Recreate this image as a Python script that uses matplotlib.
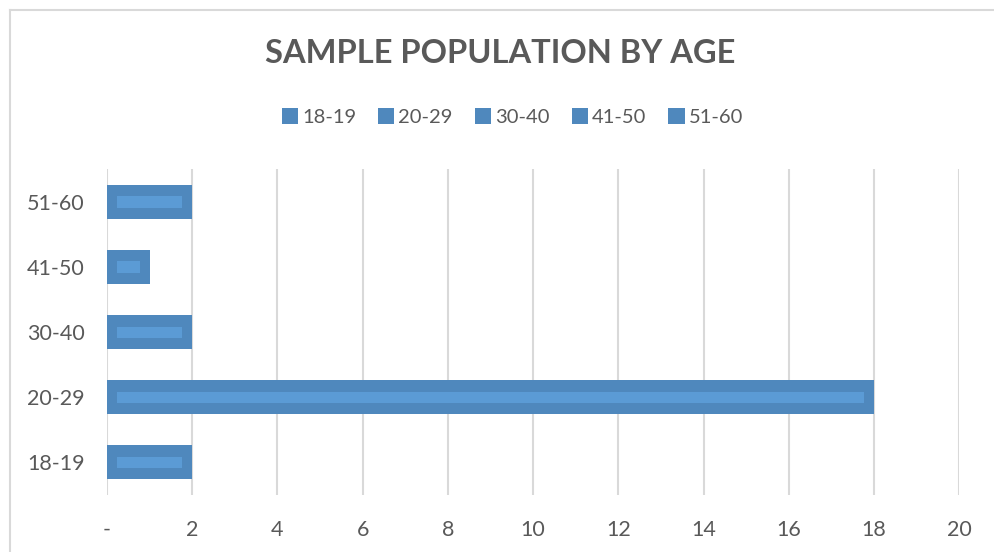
import matplotlib.pyplot as plt
from matplotlib.patches import Patch
from matplotlib.lines import Line2D
from matplotlib.ticker import FuncFormatter

# datos
grupos = ['18-19', '20-29', '30-40', '41-50', '51-60']
personas = [2, 18, 2, 1, 2]

plt.rcParams['font.family'] = ['Lato', 'DejaVu Sans']

fig = plt.figure(figsize=(9.95, 5.52), dpi=100)
ax = fig.add_axes([0.1075, 0.104, 0.8565, 0.589])

borde = '#4F88BD'
relleno = '#5B9BD5'
gris = '#595959'

# barra exterior y franja interior mas clara
ax.barh(grupos, personas, height=0.52, color=borde, zorder=3)
margen = 0.23
ax.barh(grupos, [p - 2 * margen for p in personas], left=margen, height=0.17,
        color=relleno, zorder=4)

ax.set_xlim(0, 20)
ax.set_ylim(-0.5, 4.5)
ax.set_xticks(range(0, 21, 2))
ax.xaxis.set_major_formatter(FuncFormatter(lambda v, p: '-' if v == 0 else f'{int(v)}'))
ax.grid(axis='x', color='#D9D9D9', linewidth=1.5, zorder=0)
for s in ax.spines.values():
    s.set_visible(False)
ax.tick_params(length=0, labelsize=15.5, labelcolor=gris)
ax.tick_params(axis='x', pad=18)
ax.tick_params(axis='y', pad=16)

fig.text(0.503, 0.903, 'SAMPLE POPULATION BY AGE', ha='center', va='center',
         fontsize=23.5, fontweight='bold', color=gris)

manijas = [Patch(facecolor=borde) for g in grupos]
fig.legend(manijas, grupos, loc='center', bbox_to_anchor=(0.515, 0.788), ncol=5,
           frameon=False, fontsize=14.5, labelcolor=gris, handlelength=0.8,
           handleheight=0.8, handletextpad=0.2, columnspacing=1.1)

# borde del area del grafico
fig.add_artist(Line2D([10 / 995, 10 / 995], [0, 1 - 10 / 552], color='#D9D9D9', linewidth=1.5))
fig.add_artist(Line2D([10 / 995, 1], [1 - 10 / 552, 1 - 10 / 552], color='#D9D9D9', linewidth=1.5))

fig.savefig('out.png', dpi=100)
